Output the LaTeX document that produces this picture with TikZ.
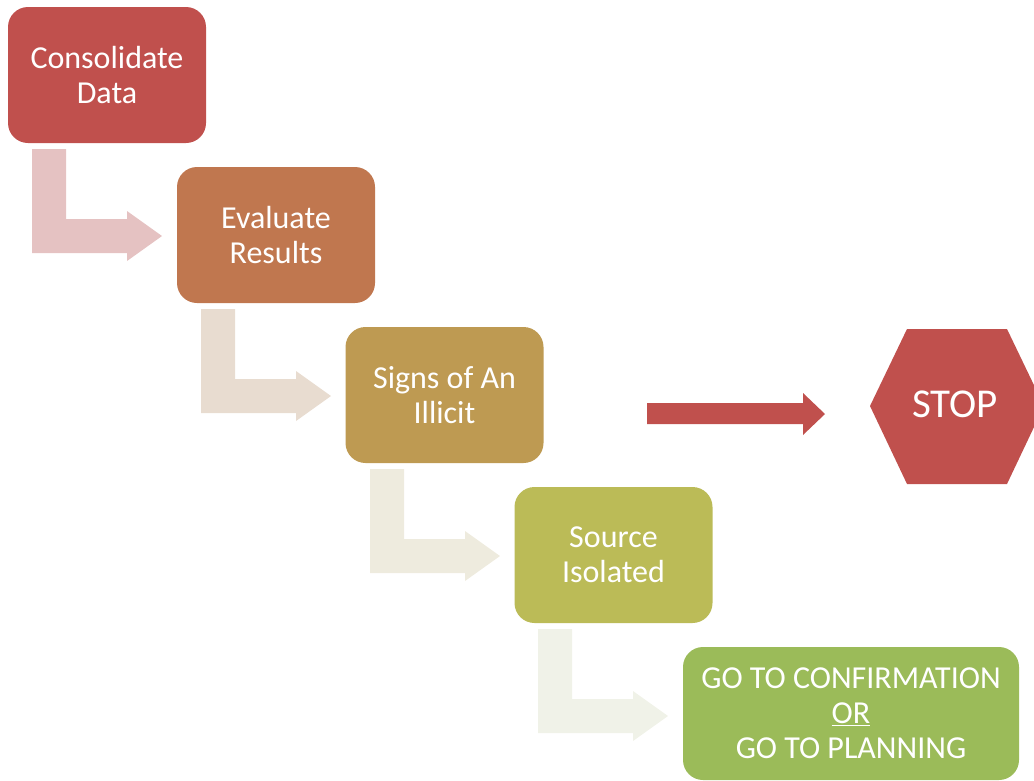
\documentclass[tikz,border=0pt]{standalone}
\usepackage{fontspec}
\setmainfont{Carlito}
\definecolor{cA}{HTML}{C0504D}
\definecolor{cB}{HTML}{C0774F}
\definecolor{cC}{HTML}{BE9A52}
\definecolor{cD}{HTML}{BBBB57}
\definecolor{cE}{HTML}{9BBB59}
\definecolor{aA}{HTML}{E5C2C2}
\definecolor{aB}{HTML}{E8DCD0}
\definecolor{aC}{HTML}{EEEBDE}
\definecolor{aD}{HTML}{F0F2E8}
\begin{document}
\begin{tikzpicture}[x=1pt,y=-1pt,
  box/.style={rounded corners=20pt, minimum width=198pt, minimum height=136pt,
    text=white, inner sep=0pt, align=center, font=\fontsize{32}{35}\selectfont},
  bent/.pic={\fill[pic actions] (0,0) -- (34,0) -- (34,70) -- (95,70) -- (95,62)
    -- (130,87) -- (95,112) -- (95,104) -- (0,104) -- cycle;}]
\clip (0,0) rectangle (1034,780);
% bent block arrows
\pic[fill=aA] (arr1) at (32,149) {bent};
\pic[fill=aB] (arr2) at (201,309) {bent};
\pic[fill=aC] (arr3) at (370,469) {bent};
\pic[fill=aD] (arr4) at (538,629) {bent};
% boxes
\node[box, fill=cA] (b1) at (107,75) {Consolidate\\Data};
\node[box, fill=cB] (b2) at (276,235) {Evaluate\\Results};
\node[box, fill=cC] (b3) at (444.5,395) {Signs of An\\Illicit};
\node[box, fill=cD] (b4) at (613.5,555) {Source\\Isolated};
\node[box, fill=cE, minimum width=336pt, minimum height=133pt] (b5) at (851,713.5)
  {GO TO CONFIRMATION\\\underline{OR}\\GO TO PLANNING};
% stop arrow
\fill[cA] (647,403) -- (803,403) -- (803,393) -- (825,414) -- (803,435) -- (803,424) -- (647,424) -- cycle;
% stop hexagon
\fill[cA] (870,406) -- (907,329) -- (1007,329) -- (1044,406) -- (1007,484) -- (907,484) -- cycle;
\node[text=white, font=\fontsize{41}{46}\selectfont] (stop) at (955,404) {STOP};
\end{tikzpicture}
\end{document}
